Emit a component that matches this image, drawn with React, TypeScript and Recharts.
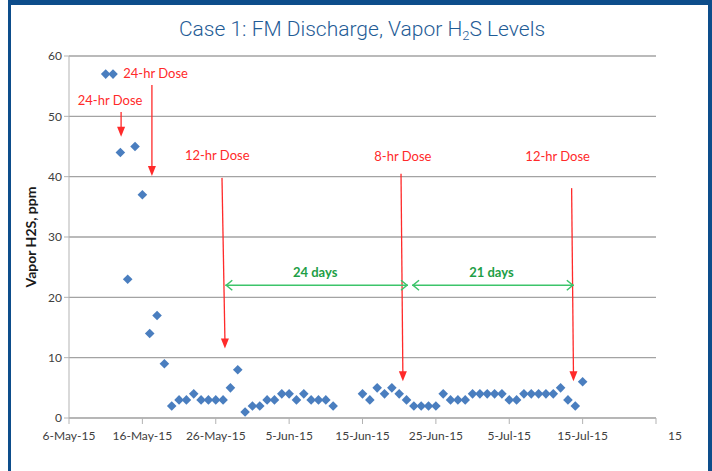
/* eslint-disable */
import { ScatterChart, Scatter, XAxis, YAxis, CartesianGrid, ReferenceLine, ReferenceDot } from 'recharts';

// day offsets counted from 6-May-15
const sampleDays = [
  5, 6, 7, 8, 9, 10, 11, 12, 13, 14, 15, 16, 17, 18, 19, 20, 21, 22, 23, 24, 25, 26, 27, 28, 29, 30, 31, 32, 33, 34, 35, 36,
  40, 41, 42, 43, 44, 45, 46, 47, 48, 49, 50, 51, 52, 53, 54, 55, 56, 57, 58, 59, 60, 61, 62, 63, 64, 65, 66, 67, 68, 69, 70,
];
const vaporH2S = [
  57, 57, 44, 23, 45, 37, 14, 17, 9, 2, 3, 3, 4, 3, 3, 3, 3, 5, 8, 1, 2, 2, 3, 3, 4, 4, 3, 4, 3, 3, 3, 2,
  4, 3, 5, 4, 5, 4, 3, 2, 2, 2, 2, 4, 3, 3, 3, 4, 4, 4, 4, 4, 3, 3, 4, 4, 4, 4, 4, 5, 3, 2, 6,
];
const xTicks = [0, 10, 20, 30, 40, 50, 60, 70, 80];
const xTickLabels = ['6-May-15', '16-May-15', '26-May-15', '5-Jun-15', '15-Jun-15', '25-Jun-15', '5-Jul-15', '15-Jul-15', '15'];
const yTicks = [0, 10, 20, 30, 40, 50, 60];

// dose annotations: label position, arrow start, arrow tip
const doseLabels = ['24-hr Dose', '24-hr Dose', '12-hr Dose', '8-hr Dose', '12-hr Dose'];
const doseLabelPos = [[11.8, 57.2], [5.6, 52.7], [20.2, 43.6], [45.5, 43.4], [66.6, 43.4]];
const doseArrowFrom = [[11.3, 55.2], [7.1, 50.7], [20.85, 39.8], [45.25, 40.5], [68.5, 38.1]];
const doseArrowTo = [[11.3, 40.1], [7.1, 46.6], [21.25, 11.5], [45.5, 6.1], [68.75, 6.1]];

const intervalLabels = ['24 days', '21 days'];
const intervalFrom = [21.3, 46.75];
const intervalTo = [46.2, 68.8];
const intervalY = 22;
const intervalLabelY = 24.2;

const data = sampleDays.map((d, i) => ({ day: d, ppm: vaporH2S[i] }));

const FONT = 'Lato, "Open Sans", sans-serif';
const RED = '#FF2A2A';
const GREEN = '#3CC46A';

const Diamond = (props: any) => {
  const { cx, cy } = props;
  const r = 4.8;
  return <polygon points={`${cx},${cy - r} ${cx + r},${cy} ${cx},${cy + r} ${cx - r},${cy}`} fill="#4A7EBF" />;
};

const RedArrow = (props: any) => {
  const { x1, y1, x2, y2 } = props;
  return (
    <g>
      <line x1={x1} y1={y1} x2={x2} y2={y2 - 9} stroke={RED} strokeWidth={1.3} />
      <polygon points={`${x2 - 4},${y2 - 10} ${x2 + 4},${y2 - 10} ${x2},${y2}`} fill={RED} />
    </g>
  );
};

const GreenArrow = (props: any) => {
  const { x1, y1, x2 } = props;
  const y = y1;
  return (
    <g fill="none" stroke={GREEN} strokeWidth={1.5}>
      <line x1={x1} y1={y} x2={x2} y2={y} />
      <polyline points={`${x1 + 7},${y - 5} ${x1 + 1},${y} ${x1 + 7},${y + 5}`} />
      <polyline points={`${x2 - 7},${y - 5} ${x2 - 1},${y} ${x2 - 7},${y + 5}`} />
    </g>
  );
};

const textShape = (text: string, color: string, bold: boolean) => (props: any) => (
  <text
    x={props.cx}
    y={props.cy}
    textAnchor="middle"
    dominantBaseline="central"
    fill={color}
    fontFamily={FONT}
    fontSize={13}
    fontWeight={bold ? 700 : 400}
  >
    {text}
  </text>
);

const XTick = (props: any) => {
  const { x, y, payload, index } = props;
  const last = index === xTicks.length - 1;
  return (
    <text x={x + (last ? 19 : 0)} y={y + 14} textAnchor="middle" fill="#404040" fontFamily={FONT} fontSize={12}>
      {xTickLabels[xTicks.indexOf(payload.value)]}
    </text>
  );
};

export default function App() {
  return (
    <div style={{ position: 'absolute', left: 0, top: 0, width: 712, height: 471, background: '#fff', overflow: 'hidden' }}>
      <div style={{ position: 'absolute', left: 8, top: 0, width: 704, height: 5, background: '#0D4D8B' }} />
      <div style={{ position: 'absolute', left: 8, top: 0, width: 3, height: 471, background: '#0D4D8B' }} />
      <div style={{ position: 'absolute', left: 708, top: 0, width: 4, height: 471, background: '#0D4D8B' }} />
      <div
        style={{
          position: 'absolute',
          left: 0,
          top: 16,
          width: 724,
          textAlign: 'center',
          fontFamily: 'Roboto, "Open Sans", sans-serif',
          fontWeight: 300,
          fontSize: 21,
          color: '#1F5C96',
          lineHeight: '26px',
        }}
      >
        Case 1: FM Discharge, Vapor H<sub style={{ fontSize: 13, verticalAlign: -4, lineHeight: 0 }}>2</sub>S Levels
      </div>
      <ScatterChart width={712} height={471} margin={{ top: 56, right: 56, bottom: 23, left: 29 }} style={{ position: 'absolute', left: 0, top: 0 }}>
        <CartesianGrid vertical={false} stroke="#A3A3A3" strokeWidth={1.4} />
        <XAxis
          type="number"
          dataKey="day"
          domain={[0, 80]}
          ticks={xTicks}
          interval={0}
          height={30}
          stroke="#B3B3B3"
          tickSize={6}
          tick={<XTick />}
        />
        <YAxis
          type="number"
          dataKey="ppm"
          domain={[0, 60]}
          ticks={yTicks}
          interval={0}
          width={40}
          stroke="#B3B3B3"
          tickSize={5}
          tick={{ fill: '#404040', fontFamily: FONT, fontSize: 12 }}
          label={{
            content: (p: any) => {
              const vb = p.viewBox;
              const cx = 30;
              const cy = vb.y + vb.height / 2;
              return (
                <text
                  x={cx}
                  y={cy}
                  transform={`rotate(-90 ${cx} ${cy})`}
                  textAnchor="middle"
                  dominantBaseline="central"
                  fontFamily={FONT}
                  fontWeight={700}
                  fontSize={14}
                  fill="#1A1A1A"
                >
                  Vapor H2S, ppm
                </text>
              );
            },
          }}
        />
        {doseArrowFrom.map((f, i) => (
          <ReferenceLine
            key={'da' + i}
            segment={[{ x: f[0], y: f[1] }, { x: doseArrowTo[i][0], y: doseArrowTo[i][1] }]}
            shape={RedArrow}
          />
        ))}
        {intervalFrom.map((f, i) => (
          <ReferenceLine
            key={'ia' + i}
            segment={[{ x: f, y: intervalY }, { x: intervalTo[i], y: intervalY }]}
            shape={GreenArrow}
          />
        ))}
        {doseLabels.map((t, i) => (
          <ReferenceDot key={'dl' + i} x={doseLabelPos[i][0]} y={doseLabelPos[i][1]} shape={textShape(t, RED, false)} />
        ))}
        {intervalLabels.map((t, i) => (
          <ReferenceDot
            key={'il' + i}
            x={(intervalFrom[i] + intervalTo[i]) / 2 - 0.2}
            y={intervalLabelY}
            shape={textShape(t, '#1E9E46', true)}
          />
        ))}
        <Scatter data={data} shape={<Diamond />} isAnimationActive={false} />
      </ScatterChart>
    </div>
  );
}
